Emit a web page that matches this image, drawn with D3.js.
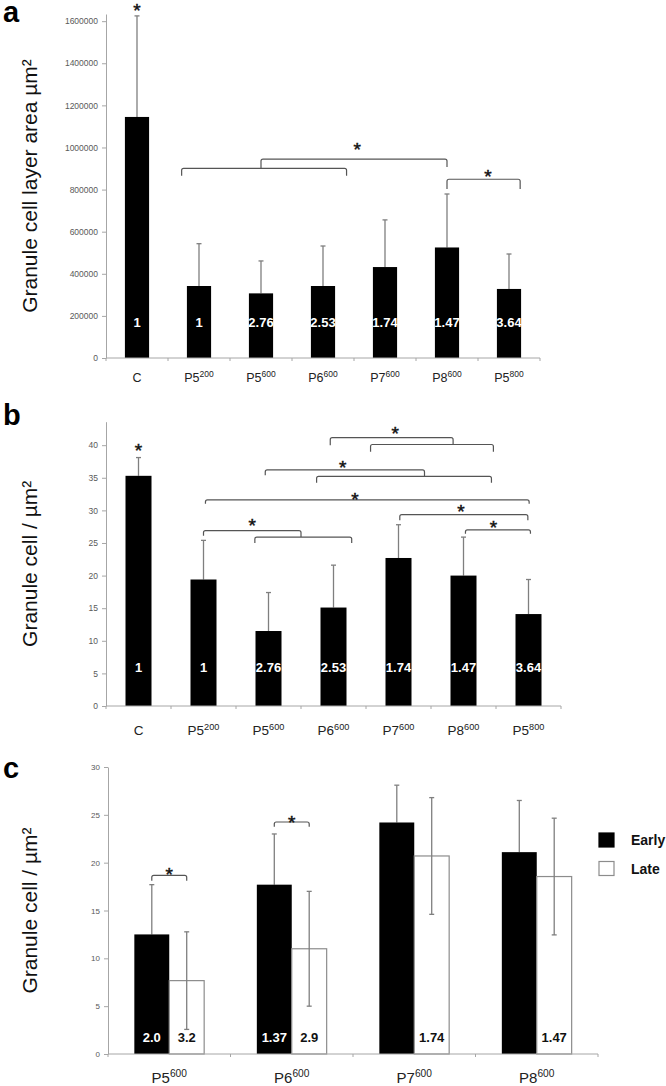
<!DOCTYPE html>
<html><head><meta charset="utf-8">
<script src="https://cdn.jsdelivr.net/npm/d3@7"></script>
<style>body{margin:0;background:#fff}svg{display:block;font-family:"Liberation Sans",Arial,sans-serif}</style>
</head><body><svg id="chart" width="666" height="1086"></svg>
<script>
// ---------- data ----------
const catBase = ["C","P5","P5","P6","P7","P8","P5"];
const catSup  = ["","200","600","600","600","600","800"];
const ratioLabels = ["1","1","2.76","2.53","1.74","1.47","3.64"];

const areaMean = [1145000, 342000, 307000, 342000, 432000, 525000, 328000];
const areaSD   = [480000, 201000, 154000, 190000, 224000, 254000, 166000];
const areaTicks = [0,200000,400000,600000,800000,1000000,1200000,1400000,1600000];

const densMean = [35.3, 19.4, 11.5, 15.1, 22.7, 20.0, 14.1];
const densSD   = [2.8, 6.0, 5.9, 6.5, 5.1, 5.9, 5.3];
const densTicks = [0,5,10,15,20,25,30,35,40];

const groupBase = ["P5","P6","P7","P8"];
const groupSup  = ["600","600","600","600"];
const earlyMean = [12.5, 17.7, 24.2, 21.1];
const earlySD   = [5.2, 5.3, 3.9, 5.4];
const lateMean  = [7.67, 11.0, 20.7, 18.55];
const lateSD    = [5.1, 6.0, 6.1, 6.1];
const earlyLabels = ["2.0","1.37","",""];
const lateLabels  = ["3.2","2.9","1.74","1.47"];
const seriesNames = ["Early","Late"];
const cTicks = [0,5,10,15,20,25,30];

// brackets: x positions in category units, y in data units (line, left leg end, right leg end)
const aBrackets = [
  {x1:0.72, x2:3.38, y:901000, yL:866000, yR:866000},
  {x1:2.0,  x2:5.0,  y:945000, yL:901000, yR:907000},
  {x1:5.0,  x2:6.18, y:849000, yL:803000, yR:803000}
];
const aStars = [{x:0, y:1672000},{x:3.55, y:1012000},{x:5.66, y:885000}];

const bBrackets = [
  {x1:2.95, x2:4.84, y:41.15, yL:40.0, yR:40.1},
  {x1:3.57, x2:5.46, y:40.1,  yL:39.0, yR:39.0},
  {x1:1.95, x2:4.40, y:36.2,  yL:35.4, yR:35.2},
  {x1:2.74, x2:5.43, y:35.2,  yL:34.25,yR:34.25},
  {x1:1.03, x2:6.01, y:31.6,  yL:31.0, yR:31.0},
  {x1:4.02, x2:5.99, y:29.35, yL:28.5, yR:28.5},
  {x1:5.03, x2:6.03, y:27.0,  yL:26.4, yR:26.4},
  {x1:1.0,  x2:2.5,  y:26.9,  yL:26.1, yR:25.9},
  {x1:1.79, x2:3.28, y:25.9,  yL:25.0, yR:25.0}
];
const bStars = [{x:0,y:40.0},{x:3.95,y:42.5},{x:3.14,y:37.3},{x:3.33,y:32.45},{x:4.96,y:30.55},{x:5.46,y:28.1},{x:1.75,y:28.5}];

// c brackets: group index, between early and late bar centres
const cBrackets = [{g:0, y:18.68, yL:18.1, yR:18.1},{g:1, y:24.25, yL:23.76, yR:23.76}];
const cStars = [{g:0, y:19.3},{g:1, y:24.74}];

// ---------- drawing ----------
const svg = d3.select("#chart");
const AX = "#a6a6a6", TXT = "#595959", ERR = "#7f7f7f", BR = "#555";

function starText(g, x, y, fs){
  g.append("text").attr("x", x).attr("y", y + fs*0.6).attr("text-anchor","middle")
   .attr("font-size", fs).attr("fill","#111").attr("stroke","#111").attr("stroke-width",0.5).text("*");
}
function bracketPath(x1, x2, y, yL, yR){
  const r = 2;
  return `M${x1},${yL}L${x1},${y+r}Q${x1},${y} ${x1+r},${y}L${x2-r},${y}Q${x2},${y} ${x2},${y+r}L${x2},${yR}`;
}
function catLabel(g, x, y, base, sup, fs){
  const t = g.append("text").attr("x", x).attr("y", y).attr("text-anchor","middle")
     .attr("font-size", fs).attr("fill","#222");
  t.append("tspan").text(base);
  if (sup) t.append("tspan").attr("dy", -fs*0.38).attr("font-size", fs*0.68).text(sup);
}
function yAxis(g, y, x0, ticks, fmt, fs){
  const ax = g.append("g").attr("transform",`translate(${x0},0)`)
    .call(d3.axisLeft(y).tickValues(ticks).tickSizeInner(4).tickSizeOuter(0).tickPadding(4).tickFormat(fmt));
  ax.select(".domain").attr("stroke", AX);
  ax.selectAll(".tick line").attr("stroke", AX);
  ax.selectAll(".tick text").attr("fill", TXT).attr("font-size", fs).attr("font-family","Liberation Sans, Arial, sans-serif");
}
function xAxisLine(g, x0, x1, y0, step, n){
  g.append("line").attr("x1",x0).attr("x2",x1).attr("y1",y0).attr("y2",y0).attr("stroke",AX);
  g.selectAll(null).data(d3.range(n+1)).join("line")
    .attr("x1", i=>x0+i*step).attr("x2", i=>x0+i*step)
    .attr("y1", y0).attr("y2", y0+3).attr("stroke", AX);
}
function yTitle(g, x, yc, text){
  g.append("text").attr("transform",`translate(${x},${yc}) rotate(-90)`).attr("text-anchor","middle")
   .attr("font-size",21).attr("fill","#111").text(text);
}
function panelLetter(x, y, t){
  svg.append("text").attr("x",x).attr("y",y).attr("font-size",29).attr("font-weight","bold").attr("fill","#000").text(t);
}

function singlePanel(opt){
  const g = svg.append("g");
  const x = d3.scaleBand().domain(d3.range(catBase.length)).range([opt.x0, opt.x1])
              .paddingInner(opt.pad).paddingOuter(opt.pad/2);
  const y = d3.scaleLinear().domain([0, opt.ymax]).range([opt.y0, opt.y1]);
  const step = x.step();
  const cx = i => opt.x0 + (i+0.5)*step;
  yAxis(g, y, opt.x0, opt.ticks, d3.format("d"), opt.tickFs);
  const eb = g.append("g").attr("stroke", ERR).attr("stroke-width",1.3);
  opt.mean.forEach((m,i)=>{
    const xc = x(i)+x.bandwidth()/2;
    eb.append("line").attr("x1",xc).attr("x2",xc).attr("y1",y(m)).attr("y2",y(m+opt.sd[i]));
    eb.append("line").attr("x1",xc-2.5).attr("x2",xc+2.5).attr("y1",y(m+opt.sd[i])).attr("y2",y(m+opt.sd[i]));
  });
  g.selectAll(null).data(opt.mean).join("rect")
    .attr("x",(d,i)=>x(i)).attr("width",x.bandwidth())
    .attr("y",d=>y(d)).attr("height",d=>y(0)-y(d)).attr("fill","#000");
  xAxisLine(g, opt.x0, opt.x1, y(0), step, catBase.length);
  g.selectAll(null).data(ratioLabels).join("text")
    .attr("x",(d,i)=>x(i)+x.bandwidth()/2).attr("y", y(0)-opt.labOff)
    .attr("text-anchor","middle").attr("font-size",13).attr("font-weight","bold").attr("fill","#fff").text(d=>d);
  catBase.forEach((b,i)=>catLabel(g, x(i)+x.bandwidth()/2, opt.labY, b, catSup[i], opt.catFs));
  g.selectAll(null).data(opt.brackets).join("path")
    .attr("d", d=>bracketPath(cx(d.x1), cx(d.x2), y(d.y), y(d.yL), y(d.yR)))
    .attr("fill","none").attr("stroke",BR).attr("stroke-width",1.2);
  opt.stars.forEach(s=>starText(g, cx(s.x), y(s.y), 19));
  yTitle(g, 37, (opt.y0+opt.y1)/2, opt.title);
}

singlePanel({x0:106, x1:540, pad:0.61, y0:358, y1:14, ymax:1634000, ticks:areaTicks, tickFs:8.5,
  mean:areaMean, sd:areaSD, labOff:31, labY:382, catFs:12.5, brackets:aBrackets, stars:aStars,
  title:"Granule cell layer area µm²"});
singlePanel({x0:106, x1:561, pad:0.6, y0:706, y1:421.7, ymax:43.6, ticks:densTicks, tickFs:8.5,
  mean:densMean, sd:densSD, labOff:34, labY:735, catFs:13.5, brackets:bBrackets, stars:bStars,
  title:"Granule cell / µm²"});

// panel c
(function(){
  const g = svg.append("g");
  const x0 = 108, x1 = 598, y0 = 1054, y1 = 767;
  const x = d3.scaleBand().domain(d3.range(groupBase.length)).range([x0,x1]).paddingInner(0.43).paddingOuter(0.215);
  const xs = d3.scaleBand().domain([0,1]).range([0, x.bandwidth()]);
  const y = d3.scaleLinear().domain([0,30]).range([y0,y1]);
  yAxis(g, y, x0, cTicks, d3.format("d"), 8);
  const eb = g.append("g").attr("stroke", ERR).attr("stroke-width",1.3);
  earlyMean.forEach((m,i)=>{
    const xc = x(i)+xs(0)+xs.bandwidth()/2;
    eb.append("line").attr("x1",xc).attr("x2",xc).attr("y1",y(m)).attr("y2",y(m+earlySD[i]));
    eb.append("line").attr("x1",xc-2.5).attr("x2",xc+2.5).attr("y1",y(m+earlySD[i])).attr("y2",y(m+earlySD[i]));
  });
  g.selectAll(null).data(earlyMean).join("rect")
    .attr("x",(d,i)=>x(i)+xs(0)).attr("width",xs.bandwidth())
    .attr("y",d=>y(d)).attr("height",d=>y(0)-y(d)).attr("fill","#000");
  g.selectAll(null).data(lateMean).join("rect")
    .attr("x",(d,i)=>x(i)+xs(1)).attr("width",xs.bandwidth())
    .attr("y",d=>y(d)).attr("height",d=>y(0)-y(d)).attr("fill","#fff").attr("stroke","#8c8c8c").attr("stroke-width",1.2);
  const eb2 = g.append("g").attr("stroke", ERR).attr("stroke-width",1.3);
  lateMean.forEach((m,i)=>{
    const xc = x(i)+xs(1)+xs.bandwidth()/2;
    const hi = y(m+lateSD[i]), lo = y(m-lateSD[i]);
    eb2.append("line").attr("x1",xc).attr("x2",xc).attr("y1",lo).attr("y2",hi);
    eb2.append("line").attr("x1",xc-2.5).attr("x2",xc+2.5).attr("y1",hi).attr("y2",hi);
    eb2.append("line").attr("x1",xc-2.5).attr("x2",xc+2.5).attr("y1",lo).attr("y2",lo);
  });
  xAxisLine(g, x0, x1, y(0), x.step(), groupBase.length);
  g.selectAll(null).data(earlyLabels).join("text")
    .attr("x",(d,i)=>x(i)+xs(0)+xs.bandwidth()/2).attr("y", y(0)-12)
    .attr("text-anchor","middle").attr("font-size",13).attr("font-weight","bold").attr("fill","#fff").text(d=>d);
  g.selectAll(null).data(lateLabels).join("text")
    .attr("x",(d,i)=>x(i)+xs(1)+xs.bandwidth()/2).attr("y", y(0)-12)
    .attr("text-anchor","middle").attr("font-size",13).attr("font-weight","bold").attr("fill","#111").text(d=>d);
  groupBase.forEach((b,i)=>catLabel(g, x(i)+x.bandwidth()/2, 1083, b, groupSup[i], 15));
  const bx = (gi,s)=>x(gi)+xs(s)+xs.bandwidth()/2;
  g.selectAll(null).data(cBrackets).join("path")
    .attr("d", d=>bracketPath(bx(d.g,0), bx(d.g,1), y(d.y), y(d.yL), y(d.yR)))
    .attr("fill","none").attr("stroke",BR).attr("stroke-width",1.2);
  cStars.forEach(s=>starText(g, (bx(s.g,0)+bx(s.g,1))/2, y(s.y), 19));
  yTitle(g, 37, (y0+y1)/2, "Granule cell / µm²");
  const lg = g.append("g");
  seriesNames.forEach((n,i)=>{
    lg.append("rect").attr("x",599).attr("y",833+i*28.5).attr("width",15).attr("height",14)
      .attr("fill", i===0?"#000":"#fff").attr("stroke", i===0?"#000":"#8c8c8c").attr("stroke-width",1.2);
    lg.append("text").attr("x",631).attr("y",845+i*28.5).attr("font-size",14).attr("font-weight","bold")
      .attr("fill","#111").text(n);
  });
})();

panelLetter(3, 22, "a");
panelLetter(3, 425, "b");
panelLetter(3, 778, "c");
</script></body></html>
